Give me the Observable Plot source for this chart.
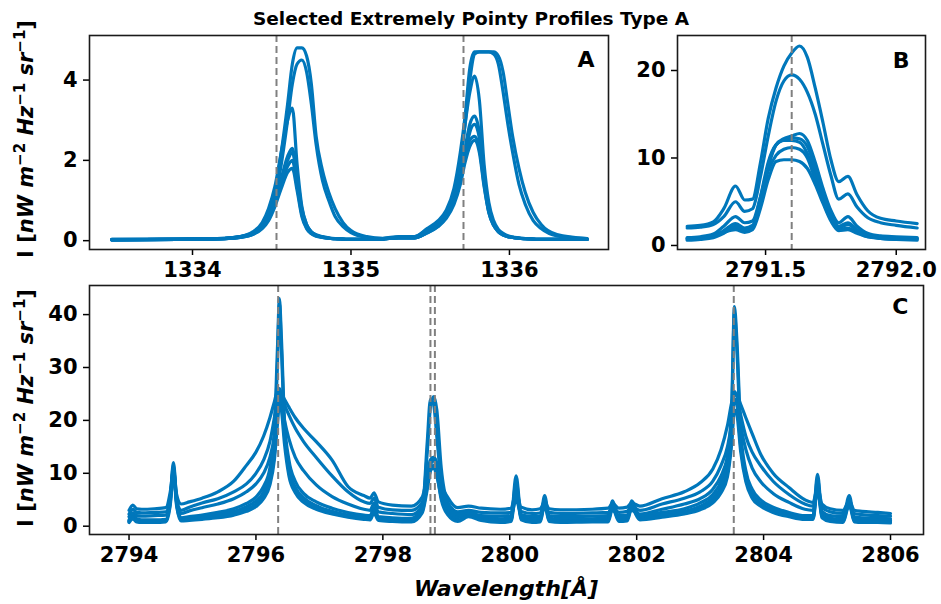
<!DOCTYPE html>
<html>
<head>
<meta charset="utf-8">
<script src="https://cdn.jsdelivr.net/npm/d3@7"></script>
<script src="https://cdn.jsdelivr.net/npm/@observablehq/plot@0.6"></script>
<style>
  body { margin: 0; background: #fff; }
  #chart { position: relative; width: 941px; height: 604px; background: #fff; font-family: "DejaVu Sans", sans-serif; }
  #chart svg { position: absolute; }
</style>
</head>
<body>
<div id="chart"></div>
<script>
// ---------- Titles / labels ----------
const titleText = "Selected Extremely Pointy Profiles Type A";
const xLabelText = "Wavelength[Å]";
const panelLetters = ["A", "B", "C"];

// ---------- Panel A : C II 1334/1335 ----------
const ticksA = [1334, 1335, 1336];
const yTicksA = [0, 2, 4];
const refLinesA = [1334.53, 1335.71];
const wlA = [1333.49, 1333.90, 1334.20, 1334.30, 1334.38, 1334.44, 1334.48, 1334.52, 1334.56, 1334.60,
             1334.63, 1334.66, 1334.69, 1334.72, 1334.75, 1334.78, 1334.82, 1334.86, 1334.90, 1334.95,
             1335.00, 1335.10, 1335.20, 1335.30, 1335.40, 1335.48, 1335.55, 1335.60, 1335.65, 1335.69,
             1335.72, 1335.75, 1335.78, 1335.81, 1335.84, 1335.87, 1335.90, 1335.93, 1335.96, 1335.99,
             1336.02, 1336.06, 1336.10, 1336.15, 1336.20, 1336.30, 1336.49];
const a1 = [0.03, 0.04, 0.06, 0.10, 0.20, 0.40, 0.70, 1.20, 2.20, 3.40,
            4.40, 4.80, 4.80, 4.60, 3.90, 2.60, 1.75, 1.20, 0.80, 0.45,
            0.25, 0.10, 0.06, 0.10, 0.10, 0.30, 0.50, 0.75, 1.30, 2.20,
            3.10, 4.30, 4.70, 4.70, 4.70, 4.70, 4.70, 4.60, 4.20, 3.40,
            2.60, 1.80, 1.20, 0.70, 0.40, 0.15, 0.05];
const a2 = [0.03, 0.04, 0.06, 0.10, 0.18, 0.35, 0.60, 1.05, 1.90, 3.00,
            3.90, 4.40, 4.50, 4.20, 3.40, 2.40, 1.50, 1.00, 0.60, 0.35,
            0.20, 0.08, 0.05, 0.09, 0.10, 0.28, 0.45, 0.70, 1.20, 2.00,
            2.90, 4.00, 4.65, 4.70, 4.70, 4.70, 4.65, 4.40, 3.70, 2.90,
            2.20, 1.40, 0.90, 0.50, 0.30, 0.12, 0.05];
const a3 = [0.02, 0.03, 0.05, 0.10, 0.22, 0.45, 0.80, 1.35, 2.20, 3.00,
            3.30, 1.90, 0.85, 0.40, 0.22, 0.15, 0.10, 0.07, 0.05, 0.04,
            0.03, 0.03, 0.04, 0.08, 0.08, 0.25, 0.45, 0.70, 1.20, 2.00,
            2.90, 3.70, 4.10, 3.50, 1.90, 0.95, 0.50, 0.28, 0.18, 0.12,
            0.09, 0.07, 0.05, 0.04, 0.03, 0.03, 0.03];
const a4 = [0.02, 0.03, 0.05, 0.09, 0.18, 0.35, 0.60, 1.00, 1.55, 2.10,
            2.30, 1.50, 0.70, 0.35, 0.20, 0.13, 0.09, 0.06, 0.05, 0.04,
            0.03, 0.03, 0.04, 0.07, 0.07, 0.20, 0.38, 0.60, 1.00, 1.60,
            2.30, 2.90, 3.10, 2.70, 1.60, 0.80, 0.42, 0.25, 0.16, 0.11,
            0.08, 0.06, 0.05, 0.04, 0.03, 0.03, 0.03];
const a5 = [0.02, 0.03, 0.05, 0.08, 0.16, 0.32, 0.55, 0.90, 1.40, 1.85,
            2.00, 1.35, 0.65, 0.32, 0.18, 0.12, 0.08, 0.06, 0.05, 0.04,
            0.03, 0.03, 0.04, 0.07, 0.07, 0.20, 0.36, 0.58, 0.95, 1.50,
            2.10, 2.70, 2.90, 2.55, 1.50, 0.75, 0.40, 0.24, 0.15, 0.10,
            0.08, 0.06, 0.05, 0.04, 0.03, 0.03, 0.03];
const a6 = [0.02, 0.03, 0.05, 0.09, 0.17, 0.34, 0.58, 0.95, 1.50, 2.00,
            2.20, 1.60, 0.80, 0.40, 0.22, 0.14, 0.09, 0.06, 0.05, 0.04,
            0.03, 0.03, 0.04, 0.07, 0.07, 0.22, 0.40, 0.62, 1.00, 1.55,
            2.10, 2.50, 2.60, 2.30, 1.40, 0.70, 0.38, 0.22, 0.14, 0.10,
            0.08, 0.06, 0.05, 0.04, 0.03, 0.03, 0.03];
const a7 = [0.02, 0.03, 0.05, 0.08, 0.15, 0.30, 0.50, 0.85, 1.30, 1.70,
            1.80, 1.25, 0.60, 0.30, 0.17, 0.11, 0.08, 0.06, 0.05, 0.04,
            0.03, 0.03, 0.04, 0.07, 0.07, 0.19, 0.35, 0.55, 0.90, 1.40,
            1.95, 2.35, 2.50, 2.20, 1.35, 0.70, 0.38, 0.22, 0.14, 0.10,
            0.08, 0.06, 0.05, 0.04, 0.03, 0.03, 0.03];

// ---------- Panel B : Mg II 2791.6 ----------
const ticksB = [2791.5, 2792.0];
const yTicksB = [0, 10, 20];
const refLinesB = [2791.60];
const wlB = [2791.20, 2791.25, 2791.30, 2791.34, 2791.385, 2791.42, 2791.45, 2791.48, 2791.51, 2791.54,
             2791.57, 2791.60, 2791.63, 2791.66, 2791.69, 2791.72, 2791.75, 2791.78, 2791.815, 2791.85,
             2791.89, 2791.94, 2792.00, 2792.08];
const b1 = [2.2, 2.3, 2.7, 4.2, 6.8, 5.2, 5.3, 9.4, 14.5, 18.0, 20.5, 22.0, 22.8, 21.5, 18.0, 14.0, 9.8, 7.3, 7.9, 5.8, 4.0, 3.1, 2.8, 2.5];
const b2 = [2.0, 2.1, 2.4, 3.3, 5.0, 3.9, 4.2, 7.8, 12.5, 16.5, 18.8, 19.5, 19.0, 17.5, 15.0, 11.5, 8.0, 5.3, 5.9, 4.4, 3.2, 2.6, 2.3, 2.0];
const b3 = [0.9, 1.0, 1.3, 2.2, 3.3, 2.6, 2.8, 5.5, 9.0, 11.5, 12.2, 12.5, 12.8, 12.0, 9.5, 6.5, 4.0, 2.6, 3.3, 2.2, 1.4, 1.1, 1.0, 0.9];
const b4 = [0.8, 0.9, 1.1, 1.7, 2.5, 2.0, 2.3, 5.5, 9.5, 11.5, 12.0, 12.0, 11.8, 10.5, 8.0, 5.5, 3.3, 2.0, 2.4, 1.7, 1.1, 0.9, 0.8, 0.8];
const b5 = [0.7, 0.8, 1.0, 1.5, 2.0, 1.6, 1.9, 4.8, 8.5, 10.3, 11.0, 11.2, 11.0, 10.0, 7.5, 5.0, 3.0, 1.8, 2.0, 1.5, 1.0, 0.8, 0.7, 0.7];
const b6 = [0.8, 0.9, 1.1, 1.5, 1.8, 1.5, 1.8, 4.2, 7.5, 9.6, 9.8, 9.8, 9.6, 8.8, 7.0, 4.8, 2.8, 1.7, 1.8, 1.4, 1.0, 0.9, 0.8, 0.8];
const b7 = [0.6, 0.7, 0.9, 1.4, 2.2, 1.8, 2.0, 5.0, 9.2, 11.5, 12.1, 12.3, 12.2, 11.3, 8.8, 6.0, 3.6, 2.2, 2.6, 1.8, 1.1, 0.8, 0.7, 0.6];

// ---------- Panel C : Mg II h & k ----------
const ticksC = [2794, 2796, 2798, 2800, 2802, 2804, 2806];
const yTicksC = [0, 10, 20, 30, 40];
const refLinesC = [2796.35, 2798.75, 2798.82, 2803.53];
const wlC = [2794.00, 2794.06, 2794.12, 2794.20, 2794.40, 2794.58, 2794.65, 2794.70, 2794.75, 2794.82,
             2794.95, 2795.15, 2795.40, 2795.65, 2795.85, 2796.00, 2796.12, 2796.22, 2796.29, 2796.34,
             2796.37, 2796.40, 2796.45, 2796.52, 2796.62, 2796.75, 2796.95, 2797.20, 2797.45, 2797.70,
             2797.80, 2797.86, 2797.93, 2798.15, 2798.45, 2798.62, 2798.70, 2798.75, 2798.80, 2798.85,
             2798.92, 2799.02, 2799.18, 2799.35, 2799.55, 2799.85, 2800.02, 2800.10, 2800.18, 2800.35,
             2800.48, 2800.55, 2800.62, 2800.80, 2801.30, 2801.55, 2801.62, 2801.72, 2801.85, 2801.92,
             2802.05, 2802.40, 2802.75, 2803.00, 2803.20, 2803.33, 2803.43, 2803.50, 2803.54, 2803.58,
             2803.64, 2803.72, 2803.82, 2803.95, 2804.15, 2804.40, 2804.65, 2804.78, 2804.85, 2804.92,
             2805.05, 2805.25, 2805.35, 2805.43, 2805.55, 2805.80, 2806.00];
const c1 = [3.0, 4.0, 3.3, 3.2, 3.3, 3.5, 6.5, 10.5, 6.0, 4.2,
            4.6, 5.3, 6.5, 8.5, 11.5, 14.0, 17.0, 20.5, 23.5, 25.5,
            25.5, 25.0, 24.0, 22.5, 20.5, 18.5, 16.0, 12.5, 7.5, 5.8,
            5.3, 6.3, 4.6, 4.0, 3.8, 5.5, 9.5, 12.5, 13.0, 12.0,
            8.0, 5.5, 3.5, 3.8, 3.4, 3.2, 3.4, 6.5, 3.6, 3.1,
            3.3, 4.6, 3.3, 3.1, 3.2, 3.4, 4.3, 3.4, 3.6, 4.4,
            3.8, 5.2, 6.5, 8.2, 10.8, 14.5, 19.0, 23.5, 25.0, 24.8,
            23.0, 20.5, 17.5, 13.7, 10.0, 7.3, 5.0, 4.5, 7.5, 4.2,
            3.3, 3.0, 4.8, 3.0, 2.8, 2.6, 2.4];
const c2 = [2.3, 3.2, 2.6, 2.5, 2.6, 2.7, 5.5, 10.0, 5.0, 3.0,
            3.6, 4.4, 5.2, 6.5, 8.0, 10.0, 12.5, 16.0, 20.5, 24.5,
            26.0, 25.0, 23.0, 21.0, 18.5, 16.0, 13.0, 9.5, 6.5, 4.6,
            4.3, 5.3, 3.6, 3.1, 3.0, 4.5, 8.5, 11.5, 12.5, 11.0,
            7.0, 4.5, 2.7, 3.0, 2.6, 2.5, 2.6, 5.8, 2.8, 2.4,
            2.5, 4.0, 2.6, 2.4, 2.5, 2.6, 3.6, 2.6, 2.8, 3.6,
            3.0, 4.2, 5.3, 6.5, 8.5, 11.5, 15.0, 20.0, 25.5, 24.5,
            21.0, 17.0, 14.0, 11.5, 8.5, 6.0, 4.2, 3.8, 7.0, 3.6,
            2.7, 2.4, 4.2, 2.4, 2.2, 2.0, 1.9];
const c3 = [1.8, 2.5, 2.0, 1.9, 2.0, 2.1, 5.0, 10.5, 4.5, 2.4,
            2.9, 3.5, 4.2, 5.2, 6.5, 8.0, 10.0, 13.0, 17.0, 22.5,
            24.5, 23.5, 20.0, 16.5, 13.0, 10.5, 7.8, 5.6, 4.2, 3.2,
            3.0, 4.3, 2.7, 2.4, 2.2, 3.8, 7.5, 10.5, 11.0, 9.5,
            5.5, 3.2, 2.0, 2.3, 2.0, 1.9, 2.0, 5.0, 2.2, 1.8,
            1.9, 3.5, 2.0, 1.8, 1.9, 2.0, 3.0, 2.0, 2.1, 3.0,
            2.3, 3.2, 4.2, 5.2, 7.0, 9.5, 13.0, 18.0, 24.0, 23.5,
            19.0, 14.5, 11.0, 8.5, 6.2, 4.5, 3.2, 3.0, 6.5, 2.8,
            2.0, 1.8, 3.8, 1.8, 1.6, 1.5, 1.4];
const c4 = [1.2, 2.2, 1.4, 1.2, 1.2, 1.3, 5.5, 12.0, 5.0, 1.6,
            1.8, 2.1, 2.6, 3.3, 4.3, 5.5, 7.5, 11.0, 18.0, 34.0,
            43.0, 36.0, 20.0, 12.5, 8.5, 6.2, 4.6, 3.4, 2.6, 2.1,
            2.0, 3.5, 1.8, 1.6, 1.5, 3.5, 14.0, 22.5, 24.5, 22.0,
            11.0, 4.5, 2.2, 2.8, 1.8, 1.4, 1.6, 9.5, 2.0, 1.3,
            1.5, 5.8, 1.6, 1.3, 1.4, 1.5, 4.8, 1.6, 1.8, 4.8,
            2.0, 2.6, 3.3, 4.4, 6.0, 8.5, 13.0, 24.0, 41.5, 35.0,
            18.0, 10.5, 7.0, 5.0, 3.6, 2.6, 2.0, 2.0, 9.8, 2.4,
            1.5, 1.3, 5.8, 1.4, 1.3, 1.2, 1.1];
const c5 = [1.0, 1.8, 1.1, 1.0, 1.0, 1.1, 5.0, 11.5, 4.6, 1.4,
            1.5, 1.8, 2.2, 2.8, 3.7, 4.8, 6.5, 10.0, 16.5, 31.0,
            42.0, 34.0, 18.5, 11.0, 7.4, 5.4, 3.9, 2.8, 2.1, 1.7,
            1.6, 3.0, 1.5, 1.3, 1.2, 3.0, 16.0, 24.0, 23.0, 17.0,
            8.0, 3.5, 1.6, 2.4, 1.5, 1.1, 1.3, 8.5, 1.6, 1.0,
            1.2, 5.2, 1.3, 1.0, 1.1, 1.2, 4.3, 1.3, 1.4, 4.3,
            1.6, 2.2, 2.8, 3.8, 5.3, 7.5, 11.5, 22.0, 40.5, 33.0,
            16.5, 9.5, 6.2, 4.4, 3.1, 2.2, 1.7, 1.7, 9.0, 2.0,
            1.2, 1.0, 5.2, 1.1, 1.0, 0.9, 0.9];
const c6 = [0.9, 1.6, 1.0, 0.9, 0.9, 1.0, 4.5, 11.0, 4.2, 1.2,
            1.3, 1.5, 1.9, 2.4, 3.2, 4.2, 5.8, 8.5, 13.5, 21.0,
            25.0, 24.0, 17.0, 10.5, 7.0, 5.0, 3.6, 2.6, 1.9, 1.5,
            1.4, 2.8, 1.3, 1.1, 1.0, 2.8, 8.0, 12.5, 13.0, 11.5,
            6.0, 2.6, 1.1, 2.0, 1.3, 0.9, 1.1, 7.5, 1.4, 0.9,
            1.0, 4.5, 1.1, 0.9, 1.0, 1.0, 3.8, 1.1, 1.2, 3.8,
            1.4, 1.9, 2.5, 3.4, 4.8, 6.8, 10.0, 17.0, 24.0, 23.0,
            15.0, 9.0, 5.8, 4.1, 2.9, 2.0, 1.5, 1.5, 8.0, 1.8,
            1.1, 0.9, 4.6, 1.0, 0.9, 0.8, 0.8];
const c7 = [0.7, 1.4, 0.8, 0.7, 0.7, 0.8, 4.0, 10.0, 3.8, 1.0,
            1.1, 1.3, 1.6, 2.1, 2.8, 3.7, 5.2, 7.8, 12.5, 19.5,
            23.0, 22.0, 15.5, 9.5, 6.3, 4.5, 3.2, 2.3, 1.7, 1.3,
            1.2, 2.5, 1.1, 0.9, 0.8, 2.5, 7.0, 10.5, 11.5, 10.0,
            5.0, 2.2, 0.9, 1.8, 1.1, 0.7, 0.9, 6.5, 1.2, 0.7,
            0.8, 4.0, 0.9, 0.7, 0.8, 0.8, 3.3, 0.9, 1.0, 3.3,
            1.2, 1.7, 2.3, 3.1, 4.4, 6.3, 9.3, 16.0, 22.0, 21.0,
            14.0, 8.4, 5.3, 3.8, 2.6, 1.8, 1.3, 1.3, 7.0, 1.6,
            0.9, 0.7, 4.0, 0.8, 0.7, 0.7, 0.6];

// ---------- helpers ----------
function table(wl, series) {
  return series.flatMap(([name, vals]) => {
    if (vals.length !== wl.length) throw new Error(name + " has " + vals.length + " values, expected " + wl.length);
    return vals.map((v, i) => ({w: wl[i], v, p: name}));
  });
}
const dataA = table(wlA, [["a1", a1], ["a2", a2], ["a3", a3], ["a4", a4], ["a5", a5], ["a6", a6], ["a7", a7]]);
const dataB = table(wlB, [["b1", b1], ["b2", b2], ["b3", b3], ["b4", b4], ["b5", b5], ["b6", b6], ["b7", b7]]);
const dataC = table(wlC, [["c1", c1], ["c2", c2], ["c3", c3], ["c4", c4], ["c5", c5], ["c6", c6], ["c7", c7]]);

const BLUE = "#0077bb";
const FONT = "DejaVu Sans";
const TICKFS = 21;

function panel({data, xDomain, yDomain, xTicks, yTicks, xFormat, refs, letter, letterDx, letterDy, width, height, margins}) {
  return Plot.plot({
    width, height,
    marginLeft: margins[0], marginRight: margins[1], marginTop: margins[2], marginBottom: margins[3],
    style: {fontFamily: FONT, fontSize: TICKFS + "px", fontWeight: "bold", color: "#000", background: "none", overflow: "visible"},
    x: {domain: xDomain},
    y: {domain: yDomain},
    marks: [
      Plot.line(data, {x: "w", y: "v", z: "p", stroke: BLUE, strokeWidth: 3.2, curve: "monotone-x"}),
      Plot.ruleX(refs, {stroke: "#808080", strokeWidth: 2, strokeDasharray: "7,4"}),
      Plot.axisX({ticks: xTicks, tickFormat: xFormat, tickSize: 6, tickPadding: 7, strokeWidth: 1.5, fontSize: TICKFS, fontWeight: "bold", label: null}),
      Plot.axisY({ticks: yTicks, tickFormat: "d", tickSize: 6, tickPadding: 6, strokeWidth: 1.5, fontSize: TICKFS, fontWeight: "bold", label: null}),
      Plot.text([letter], {text: d => d, frameAnchor: "top-right", dx: letterDx, dy: letterDy, fontSize: 22, fontWeight: "bold", fill: "#000"}),
      Plot.frame({stroke: "#1a1a1a", strokeWidth: 1.6})
    ]
  });
}

const chart = document.getElementById("chart");

const pA = panel({data: dataA, xDomain: [1333.35, 1336.625], yDomain: [-0.22, 5.11], xTicks: ticksA, yTicks: yTicksA,
  xFormat: "d", refs: refLinesA, letter: panelLetters[0], letterDx: -14, letterDy: 16,
  width: 620, height: 290, margins: [89, 12, 35, 41]});
pA.style.left = "0px"; pA.style.top = "0px";
chart.appendChild(pA);

const pB = panel({data: dataB, xDomain: [2791.163, 2792.112], yDomain: [-0.46, 24.0], xTicks: ticksB, yTicks: yTicksB,
  xFormat: d3.format(".1f"), refs: refLinesB, letter: panelLetters[1], letterDx: -16, letterDy: 17,
  width: 321, height: 290, margins: [57, 16, 35, 41]});
pB.style.left = "620px"; pB.style.top = "0px";
chart.appendChild(pB);

const pC = panel({data: dataC, xDomain: [2793.377, 2806.52], yDomain: [-1.57, 45.5], xTicks: ticksC, yTicks: yTicksC,
  xFormat: "d", refs: refLinesC, letter: panelLetters[2], letterDx: -15, letterDy: 13,
  width: 941, height: 330, margins: [89, 18, 35, 46]});
pC.style.left = "0px"; pC.style.top = "250px";
chart.appendChild(pC);

// ---------- overlay text ----------
const ov = d3.select(chart).append("svg")
  .attr("width", 941).attr("height", 604)
  .style("left", "0px").style("top", "0px").style("pointer-events", "none")
  .attr("font-family", FONT).attr("font-weight", "bold");

ov.append("text").attr("x", 471).attr("y", 25).attr("text-anchor", "middle")
  .attr("font-size", 18.5).text(titleText);

ov.append("text").attr("x", 506).attr("y", 596).attr("text-anchor", "middle")
  .attr("font-size", 22).attr("font-style", "italic").text(xLabelText);

function yLabel(cx, cy) {
  const t = ov.append("text").attr("transform", `translate(${cx},${cy}) rotate(-90)`)
    .attr("text-anchor", "middle").attr("font-size", 21);
  const parts = [
    ["I [", "normal", 0, 21],
    ["nW m", "italic", 0, 21],
    ["\u22122", "normal", -8, 15],
    [" Hz", "italic", 8, 21],
    ["\u22121", "normal", -8, 15],
    [" sr", "italic", 8, 21],
    ["\u22121", "normal", -8, 15],
    ["]", "normal", 8, 21]
  ];
  parts.forEach(([s, st, dy, fs]) => {
    t.append("tspan").attr("font-style", st).attr("dy", dy).attr("font-size", fs).text(s);
  });
}
yLabel(33, 139);
yLabel(33, 408);
</script>
</body>
</html>
